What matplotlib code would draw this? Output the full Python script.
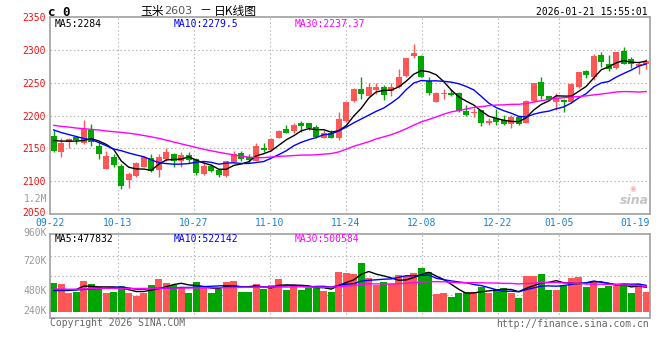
import numpy as np
import matplotlib.pyplot as plt
import matplotlib.transforms as mtransforms

plt.rcParams['font.family'] = ['DejaVu Sans Mono', 'Noto Sans CJK SC']

# ---- data (玉米2603) ----
date_labels = ['09-22', '10-13', '10-27', '11-10', '11-24', '12-08', '12-22', '01-05', '01-19']
date_idx = [0, 9, 19, 29, 39, 49, 59, 67, 77]

open_ = [2169, 2144, 2160, 2167, 2158, 2178, 2154, 2118, 2137, 2123,
         2102, 2108, 2122, 2135, 2117, 2134, 2141, 2130, 2140, 2134,
         2111, 2123, 2117, 2108, 2129, 2143, 2137, 2131, 2151, 2147,
         2166, 2179, 2177, 2189, 2188, 2182, 2166, 2173, 2166, 2192,
         2222, 2241, 2230, 2239, 2243, 2238, 2244, 2260, 2290, 2290,
         2253, 2221, 2233, 2235, 2235, 2207, 2204, 2208, 2189, 2196,
         2193, 2187, 2198, 2189, 2222, 2251, 2229, 2220, 2224, 2220,
         2244, 2268, 2259, 2292, 2279, 2272, 2298, 2286, 2276, 2279]
high = [2178, 2165, 2165, 2169, 2193, 2187, 2159, 2146, 2142, 2126,
        2114, 2129, 2139, 2141, 2141, 2151, 2143, 2145, 2145, 2135,
        2130, 2126, 2118, 2131, 2146, 2146, 2142, 2158, 2158, 2165,
        2178, 2185, 2188, 2192, 2189, 2185, 2178, 2178, 2205, 2221,
        2242, 2258, 2250, 2250, 2246, 2249, 2271, 2287, 2309, 2292,
        2258, 2236, 2241, 2240, 2236, 2216, 2212, 2209, 2196, 2210,
        2201, 2201, 2199, 2224, 2250, 2258, 2230, 2234, 2225, 2249,
        2267, 2270, 2294, 2296, 2292, 2296, 2305, 2289, 2282, 2286]
low = [2145, 2137, 2150, 2157, 2156, 2154, 2134, 2118, 2122, 2088,
       2089, 2107, 2121, 2114, 2107, 2130, 2121, 2121, 2127, 2109,
       2110, 2114, 2106, 2107, 2128, 2130, 2127, 2130, 2145, 2146,
       2165, 2173, 2174, 2175, 2178, 2166, 2165, 2165, 2163, 2190,
       2220, 2225, 2229, 2233, 2224, 2230, 2242, 2258, 2287, 2258,
       2231, 2220, 2225, 2229, 2206, 2200, 2198, 2184, 2185, 2185,
       2185, 2181, 2185, 2188, 2221, 2225, 2223, 2208, 2206, 2219,
       2242, 2257, 2254, 2274, 2268, 2271, 2278, 2273, 2263, 2271]
close = [2146, 2158, 2164, 2163, 2179, 2159, 2141, 2138, 2124, 2092,
         2111, 2128, 2137, 2115, 2137, 2145, 2131, 2140, 2132, 2112,
         2123, 2115, 2109, 2131, 2142, 2134, 2132, 2154, 2147, 2164,
         2176, 2174, 2185, 2184, 2181, 2168, 2174, 2166, 2195, 2220,
         2241, 2233, 2243, 2243, 2231, 2243, 2258, 2287, 2295, 2259,
         2234, 2235, 2235, 2231, 2207, 2201, 2206, 2189, 2192, 2190,
         2187, 2197, 2187, 2222, 2249, 2229, 2224, 2226, 2220, 2248,
         2266, 2262, 2290, 2282, 2271, 2296, 2279, 2278, 2279, 2283]

ma5 = [2162, 2161, 2161, 2161, 2162.0, 2164.6, 2161.2, 2156.0, 2148.2, 2130.8,
       2121.2, 2118.6, 2118.4, 2116.6, 2125.6, 2132.4, 2133.0, 2133.6, 2137.0, 2132.0,
       2127.6, 2124.4, 2118.2, 2118.0, 2124.0, 2126.2, 2129.6, 2138.6, 2141.8, 2146.2,
       2154.6, 2163.0, 2169.2, 2176.6, 2180.0, 2178.4, 2178.4, 2174.6, 2176.8, 2184.6,
       2199.2, 2211.0, 2226.4, 2236.0, 2238.2, 2238.6, 2243.6, 2252.4, 2262.8, 2268.4,
       2266.6, 2262.0, 2251.6, 2238.8, 2228.4, 2221.8, 2216.0, 2206.8, 2199.0, 2195.6,
       2192.8, 2191.0, 2190.6, 2196.6, 2208.4, 2216.8, 2222.2, 2230.0, 2229.6, 2229.4,
       2236.8, 2244.4, 2257.2, 2269.6, 2274.2, 2280.2, 2283.6, 2281.2, 2280.6, 2283.0]
ma10 = [2178, 2174, 2171, 2168, 2165, 2163, 2159, 2154, 2149, 2146.4,
        2142.9, 2139.9, 2137.2, 2132.4, 2128.2, 2126.8, 2125.8, 2126.0, 2126.8, 2128.8,
        2130.0, 2128.7, 2125.9, 2127.5, 2128.0, 2126.9, 2127.0, 2128.4, 2129.9, 2135.1,
        2140.4, 2146.3, 2153.9, 2159.2, 2163.1, 2166.5, 2170.7, 2171.9, 2176.7, 2182.3,
        2188.8, 2194.7, 2200.5, 2206.4, 2211.4, 2218.9, 2227.3, 2239.4, 2249.4, 2253.3,
        2252.6, 2252.8, 2252.0, 2250.8, 2248.4, 2244.2, 2239.0, 2229.2, 2218.9, 2212.0,
        2207.3, 2203.5, 2198.7, 2197.8, 2202.0, 2204.8, 2206.6, 2210.3, 2213.1, 2218.9,
        2226.8, 2233.3, 2243.6, 2249.6, 2251.8, 2258.5, 2264.0, 2269.2, 2275.1, 2278.6]
ma30 = [2185.0, 2183.5, 2182.4, 2180.9, 2179.9, 2178.9, 2177.9, 2176.4, 2175.3, 2174.3,
        2173.0, 2171.5, 2169.5, 2167.5, 2165.2, 2162.5, 2159.6, 2156.8, 2154.1, 2151.3,
        2148.6, 2146.2, 2144.0, 2142.0, 2140.0, 2138.1, 2136.6, 2135.7, 2135.9, 2136.8,
        2137.8, 2138.3, 2139.0, 2139.7, 2139.8, 2140.1, 2141.2, 2142.1, 2144.5, 2148.7,
        2153.1, 2156.6, 2160.1, 2164.4, 2167.5, 2170.8, 2175.0, 2179.9, 2185.3, 2190.2,
        2193.9, 2197.9, 2202.1, 2205.5, 2207.6, 2209.9, 2212.3, 2213.5, 2215.0, 2215.9,
        2216.2, 2217.0, 2217.1, 2218.3, 2220.6, 2222.6, 2224.3, 2226.3, 2227.1, 2228.1,
        2228.9, 2229.9, 2231.4, 2232.7, 2234.1, 2235.8, 2236.5, 2236.2, 2235.7, 2236.5]

volume = [580000, 560000, 380000, 400000, 620000, 560000, 500000, 380000, 400000, 520000,
          380000, 320000, 380000, 540000, 660000, 580000, 540000, 500000, 380000, 600000,
          480000, 380000, 460000, 600000, 620000, 400000, 400000, 560000, 460000, 540000,
          660000, 440000, 540000, 440000, 480000, 500000, 420000, 400000, 800000, 780000,
          760000, 980000, 680000, 540000, 600000, 560000, 740000, 720000, 780000, 880000,
          800000, 360000, 380000, 300000, 380000, 400000, 400000, 500000, 380000, 460000,
          480000, 380000, 280000, 720000, 720000, 760000, 440000, 440000, 520000, 680000,
          700000, 500000, 600000, 480000, 520000, 520000, 560000, 380000, 560000, 400000]
vol_ma5 = [420000, 420000, 420000, 440000, 508000, 504000, 492000, 492000, 492000, 472000,
           436000, 400000, 400000, 428000, 456000, 496000, 540000, 564000, 532000, 520000,
           500000, 468000, 460000, 504000, 508000, 492000, 496000, 516000, 488000, 472000,
           524000, 532000, 528000, 524000, 512000, 480000, 476000, 448000, 520000, 580000,
           632000, 744000, 800000, 748000, 712000, 672000, 624000, 632000, 680000, 736000,
           784000, 708000, 640000, 544000, 444000, 364000, 372000, 396000, 412000, 428000,
           444000, 440000, 396000, 464000, 516000, 572000, 584000, 616000, 576000, 568000,
           556000, 568000, 600000, 592000, 560000, 524000, 536000, 492000, 508000, 484000]
vol_ma10 = [430000, 430000, 430000, 430000, 440000, 450000, 460000, 470000, 480000, 490000,
            470000, 446000, 446000, 460000, 464000, 466000, 470000, 482000, 480000, 488000,
            498000, 504000, 512000, 518000, 514000, 496000, 482000, 488000, 496000, 490000,
            508000, 514000, 522000, 506000, 492000, 502000, 504000, 488000, 522000, 546000,
            556000, 610000, 624000, 634000, 646000, 652000, 684000, 716000, 714000, 724000,
            728000, 666000, 636000, 612000, 590000, 574000, 540000, 518000, 478000, 436000,
            404000, 406000, 396000, 438000, 472000, 508000, 512000, 506000, 520000, 542000,
            564000, 576000, 608000, 584000, 564000, 540000, 552000, 546000, 550000, 522000]
vol_ma30 = [450000, 448000, 446000, 446000, 452000, 458000, 462000, 464000, 464000, 462000,
            460000, 460000, 462000, 464000, 466000, 468000, 470000, 470000, 470000, 472000,
            472000, 474000, 476000, 478000, 480000, 482000, 484000, 486000, 488000, 489000,
            492000, 488000, 493000, 495000, 490000, 488000, 485000, 486000, 499000, 508000,
            521000, 543000, 553000, 553000, 551000, 550000, 557000, 564000, 577000, 587000,
            597000, 597000, 594000, 584000, 576000, 576000, 576000, 574000, 571000, 569000,
            563000, 561000, 552000, 561000, 569000, 578000, 579000, 580000, 571000, 567000,
            565000, 549000, 547000, 545000, 542000, 541000, 535000, 523000, 516000, 500000]

RED = '#ff5656'
GREEN = '#00a600'
GRID = '#b4b4b4'
BORDER = '#a0a0a0'
DATE_BLUE = '#1a80d0'

W, H = 660, 360


def box(l, t, r, b):
    # pixel box -> figure fraction
    return [l / W, 1 - b / H, (r - l) / W, (b - t) / H]


fig = plt.figure(figsize=(6.6, 3.6), dpi=100)
ax = fig.add_axes(box(50, 17, 650, 214))
axv = fig.add_axes(box(50, 234, 650, 318))

o = np.array(open_)
c = np.array(close)
x = np.arange(len(c))
cols = np.where(c >= o, RED, GREEN)

# sina spaces its date grid a little wider (7.6px) than the candles (7.5px)
tick_pos = [max(-0.5, (49.6 + 7.6 * i - 53.75) / 7.5) for i in date_idx]

# grid
for a in (ax, axv):
    for p in tick_pos[1:-1]:
        a.axvline(p, color=GRID, lw=0.8, ls=(0, (1.3, 2.2)), zorder=0)
for lev in [2100, 2150, 2200, 2250, 2300]:
    ax.axhline(lev, color=GRID, lw=0.8, ls=(0, (1.3, 2.2)), zorder=0)
for lev in [1120000, 720000, 330000]:
    axv.axhline(lev, color=GRID, lw=0.8, ls=(0, (1.3, 2.2)), zorder=0)

# candles
ax.vlines(x, low, high, colors=cols, lw=1, zorder=2)
ax.bar(x, np.abs(c - o), bottom=np.minimum(o, c), width=0.76, color=cols, lw=0, zorder=3)
ax.plot(x, ma5, color='black', lw=1, zorder=4)
ax.plot(x, ma10, color='#0000ff', lw=1, zorder=4)
ax.plot(x, ma30, color='#ff00ff', lw=1, zorder=4)

ax.set_xlim(-0.5, len(c) - 0.5)
ax.set_ylim(2050, 2350)
ax.set_yticks([2050, 2100, 2150, 2200, 2250, 2300, 2350])
ax.tick_params(axis='y', length=0, pad=3, labelsize=7, labelcolor='#ee1111')
ax.set_xticks(tick_pos)
ax.set_xticklabels(date_labels)
ax.tick_params(axis='x', length=0, pad=3, labelsize=7, labelcolor=DATE_BLUE)

# lift the bottom price label a touch so it clears the first date
lift = mtransforms.ScaledTranslation(0, 2.5 / 100, fig.dpi_scale_trans)
bottom_lab = ax.get_yticklabels()[0]
bottom_lab.set_transform(bottom_lab.get_transform() + lift)

# volume
axv.bar(x, volume, width=0.88, color=cols, lw=0, zorder=2)
axv.plot(x, vol_ma5, color='black', lw=1, zorder=3)
axv.plot(x, vol_ma10, color='#0000ff', lw=1, zorder=3)
axv.plot(x, vol_ma30, color='#ff00ff', lw=1, zorder=3)
axv.set_xlim(-0.5, len(c) - 0.5)
axv.set_ylim(-130000, 1550000)
axv.set_xticks([])
axv.set_yticks([])

for a in (ax, axv):
    for s in a.spines.values():
        s.set_color(BORDER)
        s.set_linewidth(1.2)

# texts
def px_text(px, py, s, **kw):
    fig.text(px / W, 1 - py / H, s, va='center', **kw)

px_text(48, 12, 'c 0', fontsize=9, fontweight='bold')
cjk = ['Noto Sans CJK SC', 'DejaVu Sans']
px_text(140, 11, '玉米', fontsize=8.5, family=cjk)
px_text(164, 11.5, '2603', fontsize=8, family='DejaVu Sans', color='#555555')
px_text(199, 11, '－', fontsize=8.5, family=cjk)
px_text(214, 11, '日K线图', fontsize=8.5, family=cjk)
px_text(648, 12, '2026-01-21 15:55:01', fontsize=7, ha='right')

px_text(55, 24, 'MA5:2284', fontsize=7, color='black')
px_text(174, 24, 'MA10:2279.5', fontsize=7, color='#0000ff')
px_text(295, 24, 'MA30:2237.37', fontsize=7, color='#ff00ff')

px_text(55, 239, 'MA5:477832', fontsize=7, color='black')
px_text(174, 239, 'MA10:522142', fontsize=7, color='#0000ff')
px_text(295, 239, 'MA30:500584', fontsize=7, color='#ff00ff')

px_text(47, 199, '1.2M', fontsize=7, color='#999999', ha='right')
for lab, py in [('960K', 232.5), ('720K', 261), ('480K', 291), ('240K', 311)]:
    px_text(47, py, lab, fontsize=7, color='#999999', ha='right')

px_text(50, 323, 'Copyright 2026 SINA.COM', fontsize=7, color='#666666')
px_text(649, 324, 'http://finance.sina.com.cn', fontsize=7, color='#666666', ha='right')

# sina watermark
px_text(633, 188, '◉', fontsize=5.5, color='#f5b5b5', ha='center', family='DejaVu Sans')
px_text(649, 200, 'sina', fontsize=9, color='#c4c4c4', ha='right', style='italic',
        fontweight='bold', family='DejaVu Sans')

fig.savefig('out.png', dpi=100)
